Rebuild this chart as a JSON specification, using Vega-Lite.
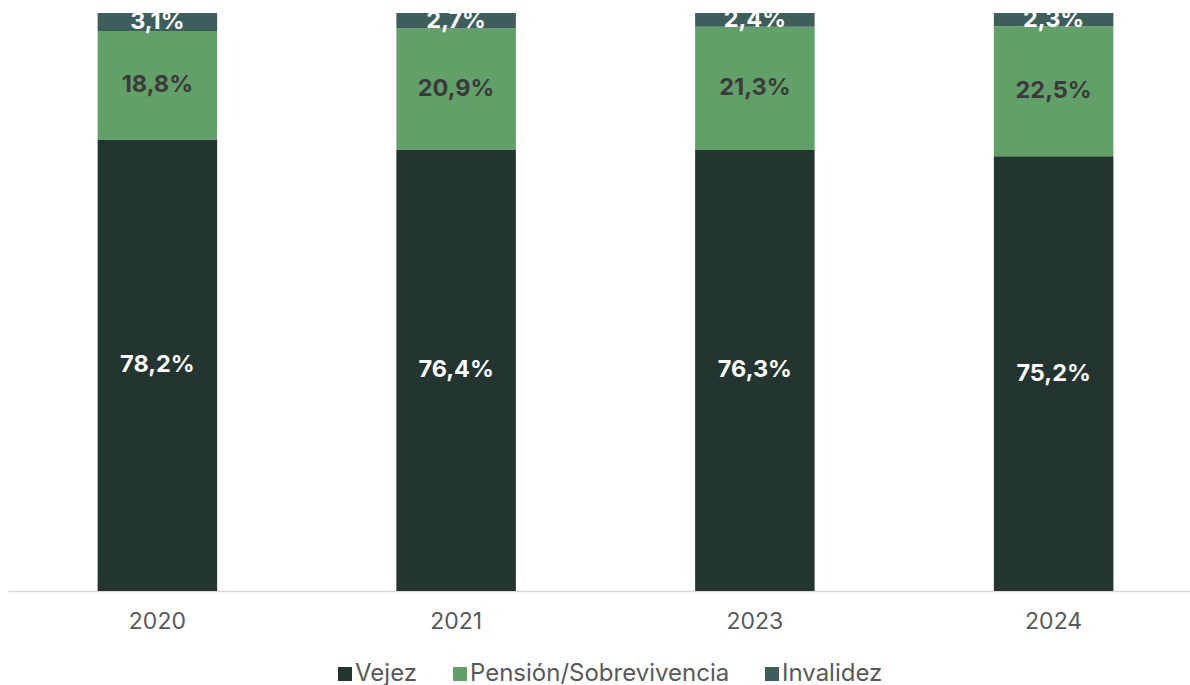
{
  "$schema": "https://vega.github.io/schema/vega-lite/v6.json",
  "width": 1195,
  "height": 578,
  "autosize": "none",
  "padding": {"left": 8, "top": 13, "right": 0, "bottom": 94},
  "config": {
    "view": {"stroke": null},
    "font": "Inter"
  },
  "data": {
    "values": [
      {"year": "2020", "tipo": "Vejez", "orden": 1, "valor": 78.2, "etiqueta": "78,2%"},
      {"year": "2020", "tipo": "Pensión/Sobrevivencia", "orden": 2, "valor": 18.8, "etiqueta": "18,8%"},
      {"year": "2020", "tipo": "Invalidez", "orden": 3, "valor": 3.1, "etiqueta": "3,1%"},
      {"year": "2021", "tipo": "Vejez", "orden": 1, "valor": 76.4, "etiqueta": "76,4%"},
      {"year": "2021", "tipo": "Pensión/Sobrevivencia", "orden": 2, "valor": 20.9, "etiqueta": "20,9%"},
      {"year": "2021", "tipo": "Invalidez", "orden": 3, "valor": 2.7, "etiqueta": "2,7%"},
      {"year": "2023", "tipo": "Vejez", "orden": 1, "valor": 76.3, "etiqueta": "76,3%"},
      {"year": "2023", "tipo": "Pensión/Sobrevivencia", "orden": 2, "valor": 21.3, "etiqueta": "21,3%"},
      {"year": "2023", "tipo": "Invalidez", "orden": 3, "valor": 2.4, "etiqueta": "2,4%"},
      {"year": "2024", "tipo": "Vejez", "orden": 1, "valor": 75.2, "etiqueta": "75,2%"},
      {"year": "2024", "tipo": "Pensión/Sobrevivencia", "orden": 2, "valor": 22.5, "etiqueta": "22,5%"},
      {"year": "2024", "tipo": "Invalidez", "orden": 3, "valor": 2.3, "etiqueta": "2,3%"}
    ]
  },
  "transform": [
    {"stack": "valor", "groupby": ["year"], "sort": [{"field": "orden", "order": "ascending"}], "offset": "normalize", "as": ["v0", "v1"]},
    {"calculate": "(datum.v0 + datum.v1) / 2", "as": "mid"}
  ],
  "encoding": {
    "x": {
      "field": "year",
      "type": "nominal",
      "title": null,
      "scale": {"paddingInner": 0.6, "paddingOuter": 0.3},
      "axis": {
        "labelAngle": 0,
        "labelFontSize": 23,
        "labelColor": "#595959",
        "labelFont": "Inter",
        "labelPadding": 19,
        "ticks": false,
        "domainColor": "#d9d9d9",
        "domainWidth": 1.5,
        "grid": false
      }
    }
  },
  "layer": [
    {
      "mark": {"type": "bar"},
      "encoding": {
        "y": {"field": "v0", "type": "quantitative", "scale": {"domain": [0, 1]}, "axis": null},
        "y2": {"field": "v1"},
        "color": {
          "field": "tipo",
          "type": "nominal",
          "sort": ["Vejez", "Pensión/Sobrevivencia", "Invalidez"],
          "scale": {
            "domain": ["Vejez", "Pensión/Sobrevivencia", "Invalidez"],
            "range": ["#243431", "#629f69", "#3e5e5b"]
          },
          "legend": {
            "title": null,
            "orient": "none",
            "legendX": 325,
            "legendY": 649,
            "direction": "horizontal",
            "symbolType": "square",
            "symbolSize": 196,
            "symbolStrokeWidth": 0,
            "labelFontSize": 24,
            "labelColor": "#595959",
            "labelFont": "Inter",
            "labelLimit": 400,
            "columnPadding": 30,
            "labelOffset": -2
          }
        }
      }
    },
    {
      "mark": {"type": "text", "fontSize": 23.5, "fontWeight": "bold", "baseline": "middle", "align": "center"},
      "encoding": {
        "y": {"field": "mid", "type": "quantitative", "scale": {"domain": [0, 1]}},
        "text": {"field": "etiqueta", "type": "nominal"},
        "color": {
          "condition": {"test": "datum.tipo === 'Pensión/Sobrevivencia'", "value": "#3a3a3a"},
          "value": "#ffffff"
        }
      }
    }
  ]
}
